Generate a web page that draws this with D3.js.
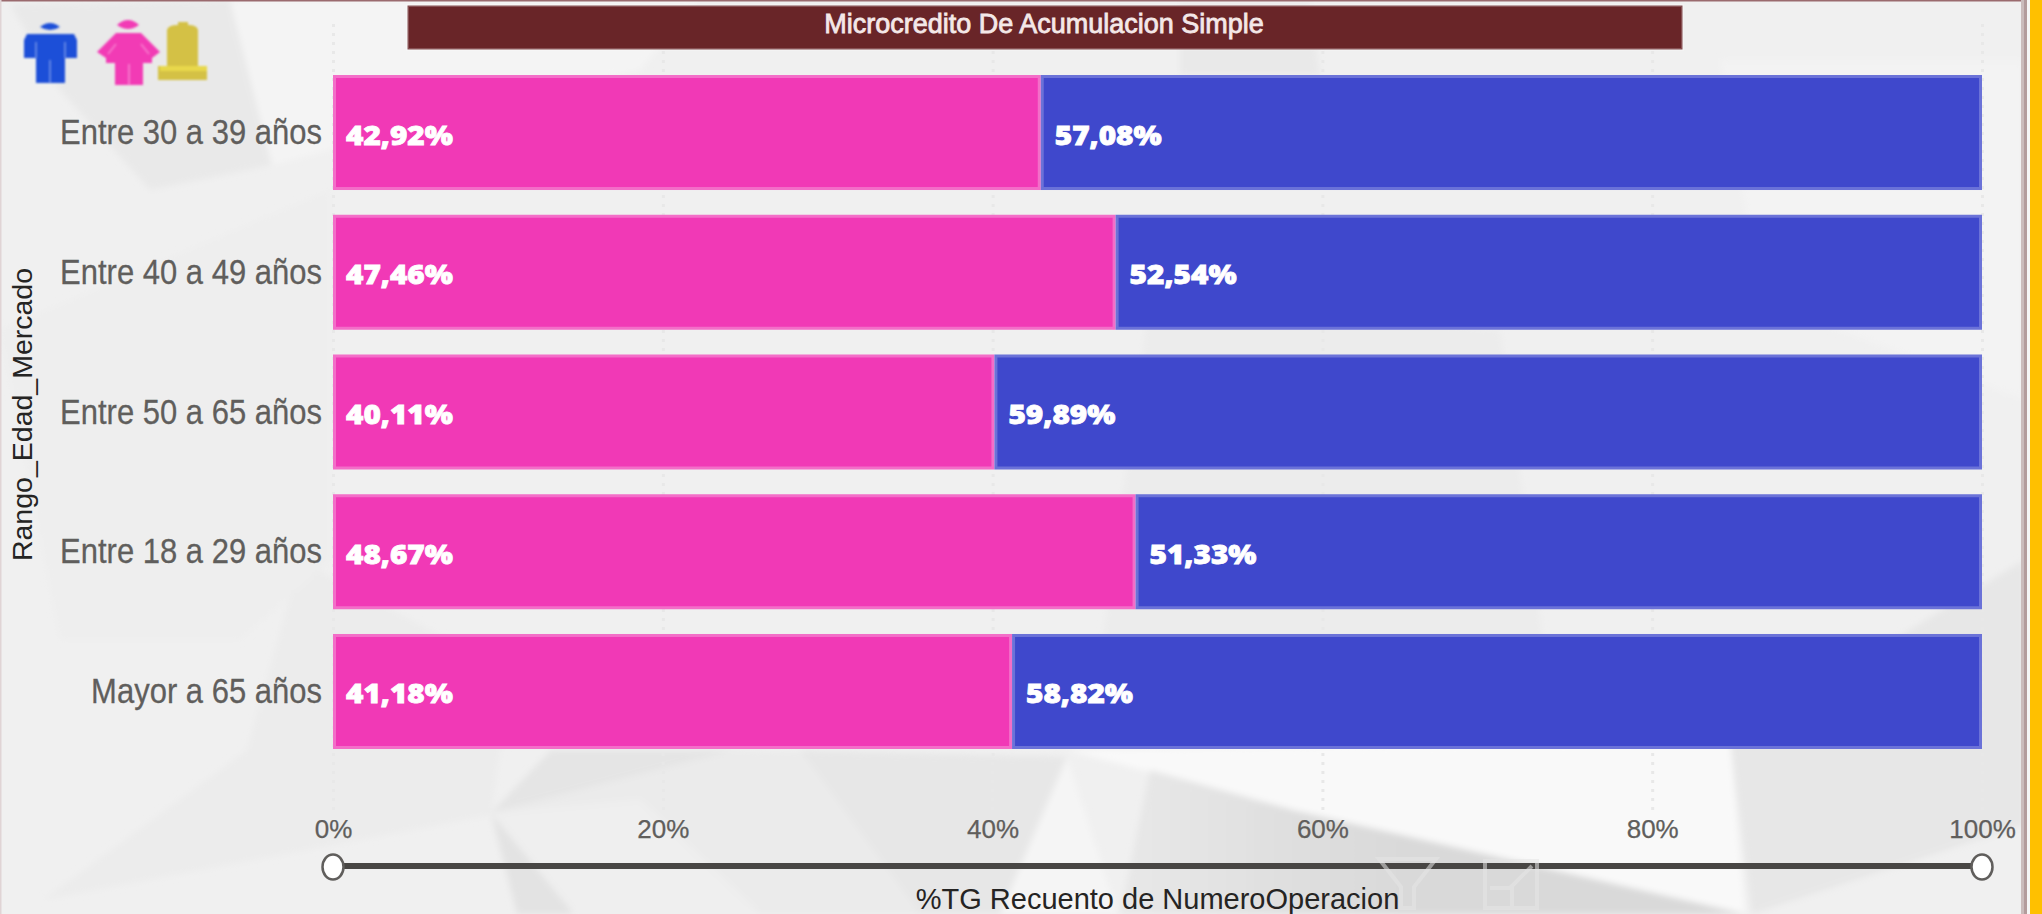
<!DOCTYPE html>
<html>
<head>
<meta charset="utf-8">
<script src="https://cdn.jsdelivr.net/npm/d3@7"></script>
<style>
  html, body { margin: 0; padding: 0; background: #f3f3f3; overflow: hidden; }
  svg { display: block; }
  text { font-family: "Liberation Sans", Arial, sans-serif; }
  .domain { display: none; }
</style>
</head>
<body>
<svg id="chart" width="2042" height="914"></svg>
<script>
//------------------------------DATA-------------------------------------
const categories = ['Entre 30 a 39 años', 'Entre 40 a 49 años', 'Entre 50 a 65 años', 'Entre 18 a 29 años', 'Mayor a 65 años'];
const mujeres = [42.92, 47.46, 40.11, 48.67, 41.18];
const hombres = [57.08, 52.54, 59.89, 51.33, 58.82];
const tickValues = [0, 20, 40, 60, 80, 100];

const chartTitle = 'Microcredito De Acumulacion Simple';
const xTitle = '%TG Recuento de NumeroOperacion';
const yTitle = 'Rango_Edad_Mercado';

const pink = '#f139b6', pinkEdge = '#f36ec8';
const blue = '#3f48cc', blueEdge = '#6b72d8';

const svg = d3.select('#chart');

// low poly wallpaper behind the visual
const polys = [
  { f: '#e9e9e9', p: '10,4 230,0 272,165 150,190 60,90' },
  { f: '#f4f4f4', p: '230,0 700,0 640,70 272,165' },
  { f: '#ececec', p: '43,900 247,750 300,560 560,700 500,750 491,815' },
  { f: '#eeeeee', p: '0,330 330,190 330,560 240,640 60,640' },
  { f: '#e5e5e5', p: '491,813 551,750 735,750' },
  { f: '#e3e3e3', p: '491,813 517,914 574,914' },
  { f: '#ebebeb', p: '735,750 1067,757 1118,914 574,914 491,813' },
  { f: '#efefef', p: '574,914 491,813 640,800 760,914' },
  { f: '#e7e7e7', p: '800,750 1067,757 1000,914 920,914' },
  { f: '#f5f5f5', p: '1067,757 1118,914 1000,914' },
  { f: '#e9e9e9', p: '1180,4 1310,4 1320,75 1180,75' },
  { f: '#ececec', p: '1150,300 1500,330 1560,760 1100,660' },
  { f: '#f9f9f9', p: '1067,750 1730,740 1745,914 1541,867 1293,810' },
  { f: 'url(#darkFade)', p: '1150,770 1293,810 1541,867 1745,914 1120,914' },
  { f: '#e7e7e7', p: '1730,740 2024,560 2024,835 1978,840 1752,914' },
  { f: '#f0f0f0', p: '1752,914 1978,840 2024,825 2024,914' },
  { f: '#f3f3f3', p: '1720,60 2024,60 2024,400 1760,300' }
];

const defs = svg.append('defs');
defs.append('filter').attr('id', 'soft').append('feGaussianBlur').attr('stdDeviation', 3);
defs.append('filter').attr('id', 'iconBlur').append('feGaussianBlur').attr('stdDeviation', 0.8);
const fade = defs.append('linearGradient').attr('id', 'darkFade');
fade.append('stop').attr('offset', '0').attr('stop-color', '#e8e8e8');
fade.append('stop').attr('offset', '0.45').attr('stop-color', '#d9d9d9');
fade.append('stop').attr('offset', '1').attr('stop-color', '#d9d9d9');

svg.append('rect').attr('width', 2042).attr('height', 914).attr('fill', '#f0f0f0');
svg.append('g').attr('filter', 'url(#soft)')
  .selectAll('polygon').data(polys).join('polygon')
  .attr('points', d => d.p)
  .attr('fill', d => d.f);

//------------------------------SCALES-------------------------------------
const x = d3.scaleLinear().domain([0, 100]).range([333, 1982]);
const y = d3.scaleBand().domain(categories).range([75, 749]).paddingInner(0.177);

// text in the capture is stretched a bit, keep the position in the transform
const stretch = (sel, sx, sy) => sel.attr('transform', function () {
  const tx = +this.getAttribute('x') || 0, ty = +this.getAttribute('y') || 0;
  return `translate(${tx},${ty}) scale(${sx},${sy})`;
}).attr('x', 0).attr('y', 0);

//------------------------------AXES-------------------------------------
const xAxis = svg.append('g')
  .attr('transform', 'translate(0,810)')
  .call(d3.axisBottom(x).tickValues(tickValues).tickFormat(d => d + '%').tickSize(-790).tickPadding(0));

xAxis.selectAll('line')
  .attr('stroke', '#e8e8e8')
  .attr('stroke-width', 3)
  .attr('stroke-dasharray', '3,6');

xAxis.selectAll('text')
  .attr('dy', 0)
  .attr('y', 28)
  .attr('fill', '#605e5c')
  .attr('stroke', '#605e5c').attr('stroke-width', 0.25)
  .attr('font-size', 26);

svg.append('g').selectAll('text').data(categories).join('text')
  .attr('x', 322)
  .attr('y', d => y(d) + y.bandwidth() / 2 + 11.5)
  .attr('text-anchor', 'end')
  .attr('fill', '#605e5c')
  .attr('stroke', '#605e5c').attr('stroke-width', 0.25)
  .attr('font-size', 31)
  .text(d => d)
  .call(stretch, 1, 1.12);

svg.append('text')
  .attr('x', x(50)).attr('y', 909)
  .attr('text-anchor', 'middle')
  .attr('fill', '#252423')
  .attr('font-size', 29)
  .text(xTitle);

svg.append('text')
  .attr('transform', `translate(32,414.5) rotate(-90)`)
  .attr('text-anchor', 'middle')
  .attr('fill', '#252423')
  .attr('font-size', 28.5)
  .text(yTitle);

//------------------------------BARS-------------------------------------
const rows = categories.map((c, i) => ({ c: c, m: mujeres[i], h: hombres[i] }));
const inset = 1.5;

const row = svg.append('g').selectAll('g').data(rows).join('g');

row.append('rect')
  .attr('x', d => x(0) + inset)
  .attr('y', d => y(d.c) + inset)
  .attr('width', d => x(d.m) - x(0) - inset * 2)
  .attr('height', y.bandwidth() - inset * 2)
  .attr('fill', pink)
  .attr('stroke', pinkEdge).attr('stroke-width', 3);

row.append('rect')
  .attr('x', d => x(d.m) + inset)
  .attr('y', d => y(d.c) + inset)
  .attr('width', d => x(d.m + d.h) - x(d.m) - inset * 2)
  .attr('height', y.bandwidth() - inset * 2)
  .attr('fill', blue)
  .attr('stroke', blueEdge).attr('stroke-width', 3);

const fmt = v => v.toFixed(2).replace('.', ',') + '%';

function barLabel(xPos, val) {
  row.append('text')
    .attr('x', xPos)
    .attr('y', d => y(d.c) + y.bandwidth() / 2 + 12)
    .attr('fill', '#fff')
    .attr('stroke', '#fff')
    .attr('stroke-width', 0.8)
    .style('font-family', '"Open Sans", sans-serif')
    .attr('font-weight', 800)
    .attr('font-size', 27)
    .text(val)
    .call(stretch, 1.1, 1);
}
barLabel(d => x(0) + 13, d => fmt(d.m));
barLabel(d => x(d.m) + 14, d => fmt(d.h));

//------------------------------TITLE-------------------------------------
svg.append('rect')
  .attr('x', 407.5).attr('y', 5.5).attr('width', 1275).attr('height', 44)
  .attr('fill', '#692528')
  .attr('stroke', '#fff').attr('stroke-opacity', 0.2).attr('stroke-width', 3);

svg.append('text')
  .attr('x', 1044).attr('y', 33)
  .attr('text-anchor', 'middle')
  .attr('fill', '#f4e8e8')
  .attr('stroke', '#f4e8e8').attr('stroke-width', 0.8)
  .attr('font-size', 27)
  .text(chartTitle);

//------------------------------SLIDER-------------------------------------
svg.append('line')
  .attr('x1', x(0)).attr('x2', x(100)).attr('y1', 866).attr('y2', 866)
  .attr('stroke', '#484644').attr('stroke-width', 6);

svg.append('g').selectAll('ellipse').data(x.domain()).join('ellipse')
  .attr('cx', d => x(d)).attr('cy', 867)
  .attr('rx', 10.5).attr('ry', 12.5)
  .attr('fill', '#fff')
  .attr('stroke', '#605e5c').attr('stroke-width', 2.5);

// ghost header icons of the visual, half hidden over the slider
const ghost = svg.append('g')
  .attr('fill', 'none')
  .attr('stroke', '#e6e6e6')
  .attr('stroke-opacity', 0.55)
  .attr('stroke-width', 4);
ghost.append('path').attr('d', 'M1379,859 H1436 L1414,887 V908 H1401 V887 Z');
ghost.append('path').attr('d', 'M1485,908 V861 H1537 V908 Z M1490,888 H1512 V906 M1510,888 L1532,866');

//------------------------------GENDER ICONS-------------------------------------
const icons = svg.append('g').attr('filter', 'url(#iconBlur)');
icons.append('path').attr('fill', '#1f4fd8')
  .attr('d', 'M40,27 Q50,19 60,27 Q50,33 40,27 Z M27,34 H74 L77,40 V58 H65 V83 H36 V58 H24 V40 Z');
icons.append('path').attr('fill', '#f23ab5')
  .attr('d', 'M117,25 Q128,15 139,25 Q128,33 117,25 Z M116,33 H141 L160,52 L152,58 V63 H143 V85 H115 V63 H106 V58 L97,52 Z');
icons.append('path').attr('fill', '#d4c145')
  .attr('d', 'M167,30 Q168,25 178,25 V22 H188 V25 Q197,25 198,30 V66 H207 V80 H158 V66 H167 Z');
icons.append('rect').attr('x', 160).attr('y', 66).attr('width', 47).attr('height', 5).attr('fill', '#e8d84c');

// lighter seams between arms, body and legs
const seams = svg.append('g').attr('stroke', '#fff').attr('stroke-opacity', 0.3).attr('stroke-width', 2).attr('filter', 'url(#iconBlur)');
seams.append('path').attr('d', 'M36,42 V58 M65,42 V58 M50,60 V83 M129,64 V85 M116,44 L108,54 M141,44 L149,54');

//------------------------------FRAME-------------------------------------
svg.append('rect').attr('x', 0).attr('y', 0).attr('width', 2024).attr('height', 1.5).attr('fill', '#9a6a6e');
svg.append('rect').attr('x', 0).attr('y', 0).attr('width', 1.5).attr('height', 914).attr('fill', '#e0d4d5');
svg.append('rect').attr('x', 2021).attr('y', 0).attr('width', 3).attr('height', 914).attr('fill', '#cbbcbc');
svg.append('rect').attr('x', 2024).attr('y', 0).attr('width', 3).attr('height', 914).attr('fill', '#b39c9c');
svg.append('rect').attr('x', 2027).attr('y', 0).attr('width', 3).attr('height', 914).attr('fill', '#f6f6f6');
svg.append('rect').attr('x', 2030).attr('y', 0).attr('width', 12).attr('height', 914).attr('fill', '#ffc000');
</script>
</body>
</html>
